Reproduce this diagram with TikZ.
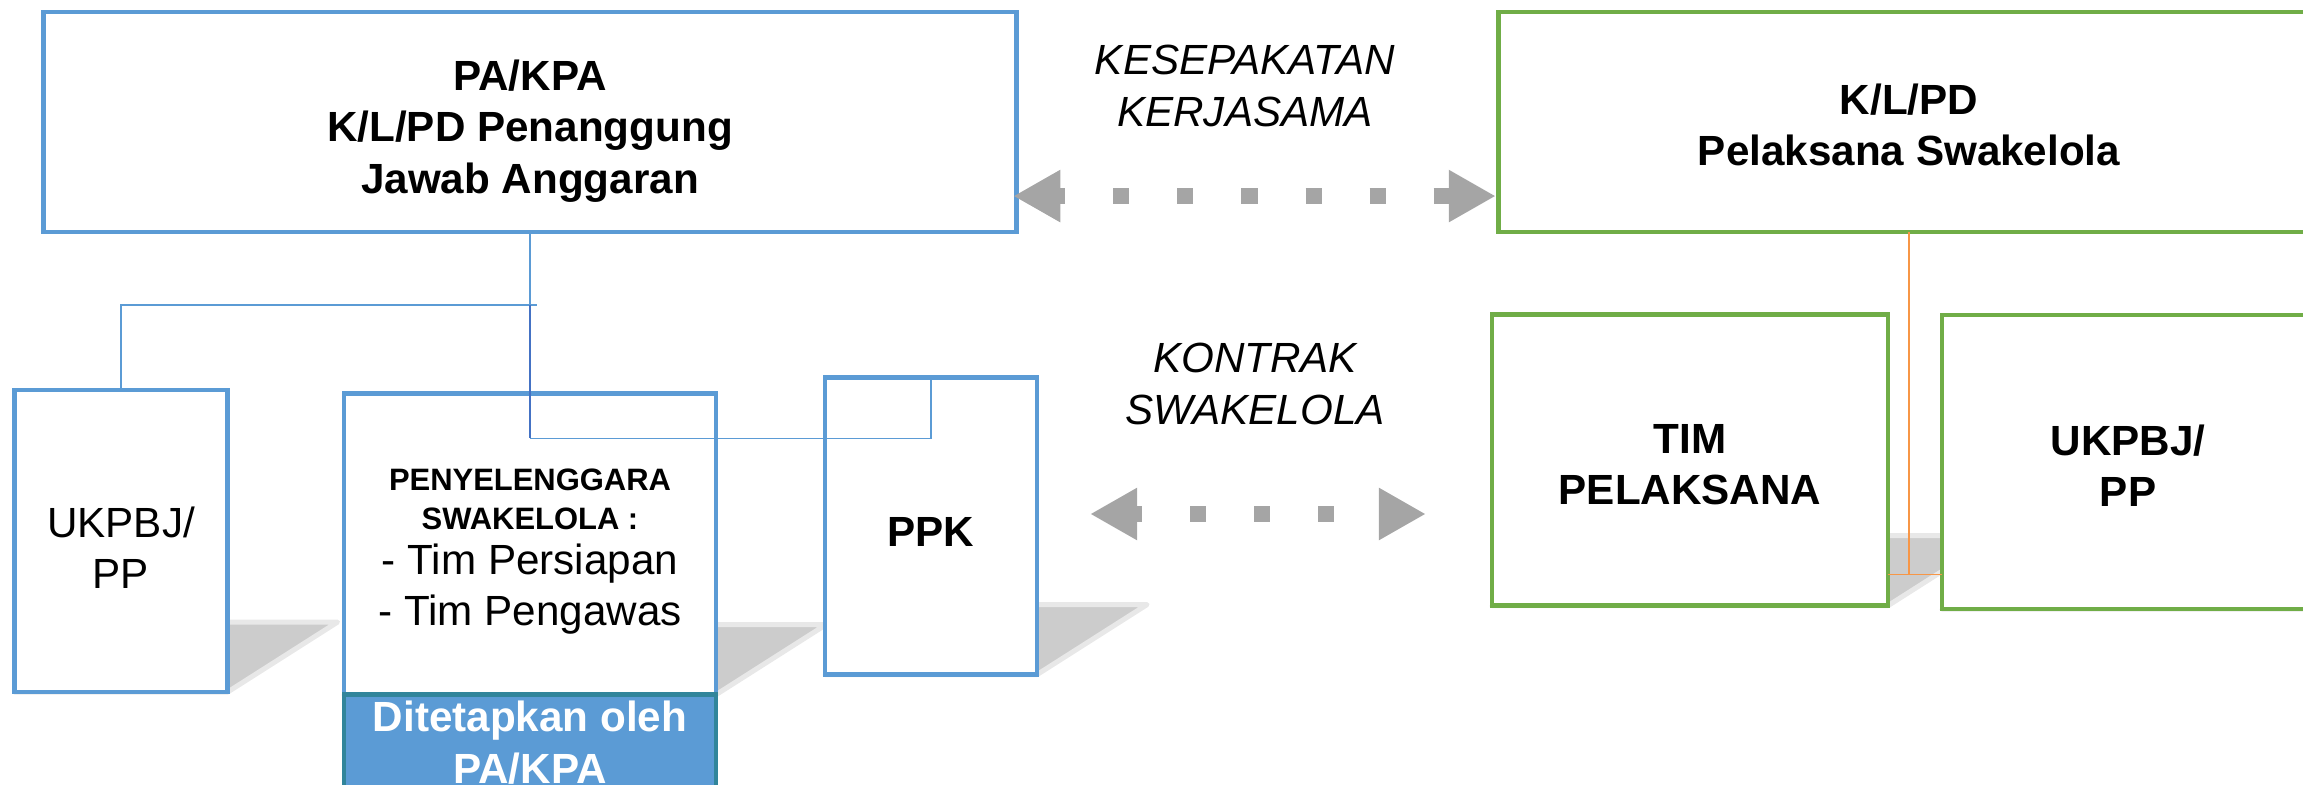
\documentclass[tikz,border=0pt]{standalone}
\usepackage{fontspec}
\setmainfont{Liberation Sans}
\usepackage{tikz}
\usetikzlibrary{arrows.meta,positioning,calc,backgrounds}
\usepackage{xcolor}
\definecolor{boxblue}{RGB}{91,155,213}
\definecolor{linkblue}{RGB}{68,114,196}
\definecolor{boxgreen}{RGB}{112,173,71}
\definecolor{arrowgray}{RGB}{165,165,165}
\definecolor{darkteal}{RGB}{49,133,155}
\definecolor{linkorange}{RGB}{247,150,70}
\newcommand{\boxfont}{\fontsize{12}{14.6}\selectfont}
\newcommand{\smallbold}{\fontsize{8.8}{10.8}\selectfont\bfseries}
\tikzstyle{bluebox} = [rectangle, draw=boxblue, fill=white, line width=1.3pt, outer sep=0pt]
\tikzstyle{greenbox} = [rectangle, draw=boxgreen, fill=white, line width=1.3pt, outer sep=0pt]
\tikzstyle{boxtext} = [align=center, font=\boxfont\bfseries]
\tikzstyle{conn} = [line width=0.45pt, color=boxblue]
\tikzstyle{dotarrow} = [line width=0.16cm, color=arrowgray, dash pattern=on 0.16cm off 0.48cm, dash phase=0.08cm, {Triangle[length=0.47cm,width=0.49cm]}-{Triangle[length=0.47cm,width=0.49cm]}]
\tikzstyle{boxshadow} = [fill=black!20, draw=black!9, line width=0.05cm, line join=round]

\begin{document}
\begin{tikzpicture}[x=0.01cm, y=-0.01cm]
    \useasboundingbox (0,0) rectangle (2303,785);

    % PA/KPA
    \node[bluebox, minimum width=9.72cm, minimum height=2.2cm] (pakpa) at (530,122) {};
    \node[boxtext] (pakpatext) at (530,131) {PA/KPA\\K/L/PD Penanggung\\Jawab Anggaran};

    % Pelaksana
    \node[greenbox, minimum width=8.2cm, minimum height=2.2cm] (klpd) at (1909,122) {};
    \node[boxtext] (klpdtext) at (1909,125) {K/L/PD\\Pelaksana Swakelola};

    % Lower boxes, left
    \node[bluebox, minimum width=2.13cm, minimum height=3.02cm] (ukpbjL) at (121,541) {};
    \node[boxtext, font=\boxfont] (ukpbjLtext) at (121,548) {UKPBJ/\\PP};

    \node[bluebox, minimum width=3.72cm, minimum height=3.01cm] (penyel) at (530,544) {};
    \node[boxtext, font=\boxfont] (penyeltext) at (530,552) {\smallbold PENYELENGGARA\\[-3.7pt]\smallbold SWAKELOLA :\\[-1.7pt]- Tim Persiapan\\- Tim Pengawas};

    \node[rectangle, draw=darkteal, fill=boxblue, line width=1.3pt, outer sep=0pt, minimum width=3.72cm, minimum height=0.96cm, below=0pt of penyel] (ditetapkan) {};
    \node[boxtext, text=white] (ditetapkantext) at (ditetapkan.center) {Ditetapkan oleh\\PA/KPA};

    \node[bluebox, minimum width=2.12cm, minimum height=2.97cm] (ppk) at (931,526) {};
    \node[boxtext] (ppktext) at (931,532) {PPK};

    % Lower boxes, right
    \node[greenbox, minimum width=3.96cm, minimum height=2.91cm] (tim) at (1690,460) {};
    \node[boxtext] (timtext) at (1690,465) {TIM\\PELAKSANA};
    \node[greenbox, minimum width=3.72cm, minimum height=2.94cm] (ukpbjR) at (2128,462) {};
    \node[boxtext] (ukpbjRtext) at (2128,466) {UKPBJ/\\PP};

    % Shadows
    \begin{scope}[on background layer]
        \foreach \b in {ukpbjL,penyel,ppk,tim,ukpbjR}
            \filldraw[boxshadow] (\b.south west) -- (\b.south east) -- ++(110,-70) -- ($(\b.south west)+(110,-70)$) -- cycle;
    \end{scope}

    % Lines
    \coordinate (junc) at (537,305);
    \draw[conn] (ukpbjL.north) |- (junc);
    \draw[conn] (pakpa.south) -- (pakpa.south |- junc);
    \draw[conn, color=linkblue] (pakpa.south |- junc) -- ($(pakpa.south |- penyel.north)+(0,45)$);
    \draw[conn] ($(pakpa.south |- penyel.north)+(0,45)$) -| (ppk.north);
    \draw[line width=0.45pt, color=linkorange] (klpd.south) -- ($(klpd.south |- tim.south)+(0,-31)$);
    \draw[line width=0.45pt, color=linkorange] ($(tim.south east)+(0,-31)$) -- ($(tim.south east -| ukpbjR.west)+(0,-31)$);

    % Arrows
    \draw[dotarrow] ($(pakpa.south east)+(-3,-36)$) -- ($(klpd.south west)+(-3,-36)$);
    \node[font=\boxfont\itshape, align=center] (kesepakatan) at (1245,86) {KESEPAKATAN\\KERJASAMA};
    \draw[dotarrow, shorten <=0.53cm, shorten >=0.66cm] ($(ppk.east)+(0,-12)$) -- ($(ppk.east -| tim.west)+(0,-12)$);
    \node[font=\boxfont\itshape, align=center] (kontrak) at (1255,384) {KONTRAK\\SWAKELOLA};
\end{tikzpicture}
\end{document}
